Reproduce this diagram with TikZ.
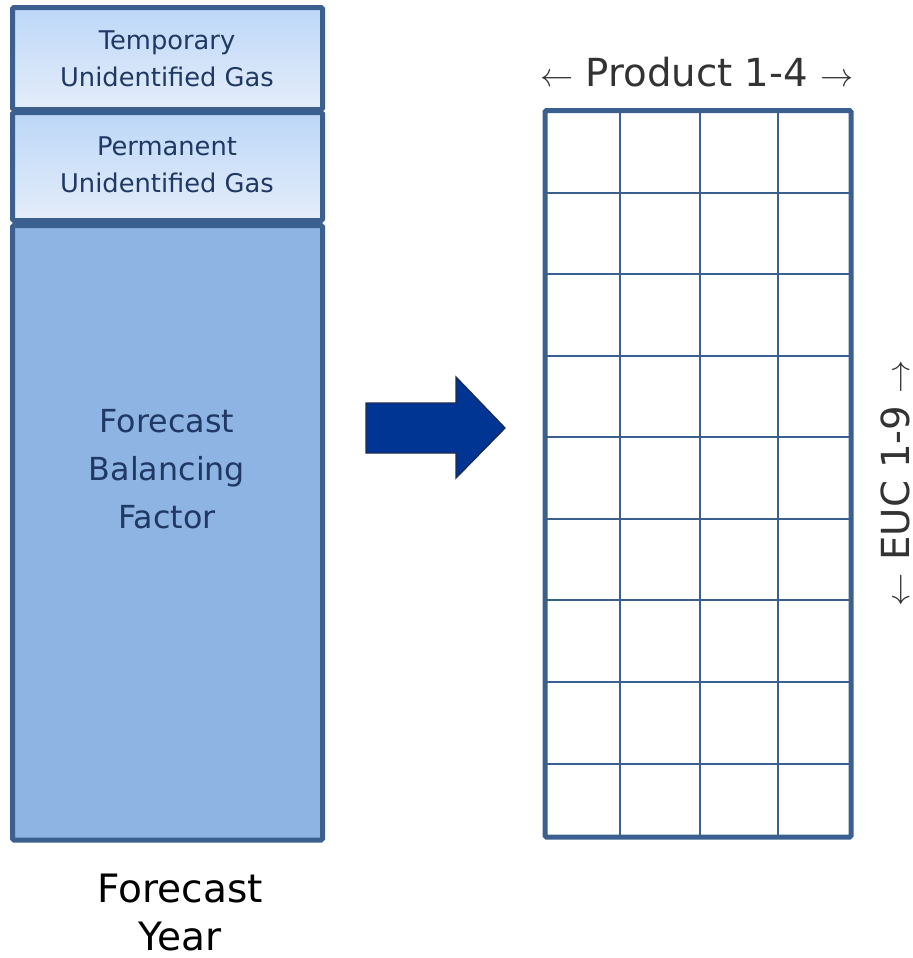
\documentclass[tikz,border=0pt]{standalone}
\usepackage{fontspec}
\setmainfont{DejaVu Sans}

\definecolor{boxedge}{RGB}{59,95,143}
\definecolor{boxtext}{RGB}{31,56,100}
\definecolor{ugtop}{RGB}{189,215,248}
\definecolor{ugbottom}{RGB}{228,237,250}
\definecolor{bffill}{RGB}{142,180,227}
\definecolor{arrowfill}{RGB}{0,53,148}
\definecolor{arrowedge}{RGB}{27,42,85}
\definecolor{axistext}{RGB}{51,51,51}

\tikzset{every picture/.style={line width=0.75pt}}
\tikzset{
	ugbox/.style={draw=boxedge, line width=3.75pt, rounded corners=1pt, top color=ugtop, bottom color=ugbottom},
	bfbox/.style={draw=boxedge, line width=3.75pt, rounded corners=1pt, fill=bffill},
	gridline/.style={draw=boxedge, line width=1.5pt},
	gridframe/.style={draw=boxedge, line width=3.75pt, rounded corners=1pt},
	boxlabel/.style={text=boxtext, align=center, inner sep=0pt},
	axislabel/.style={text=axistext, inner sep=0pt, font=\fontsize{29}{34}\selectfont}
}

\begin{document}
\begin{tikzpicture}[x=0.75pt,y=0.75pt,yscale=-1,xscale=1]
			\useasboundingbox (0,0) rectangle (913,958);

			%Shape: Rectangle [Temporary UG]
			\draw [ugbox] (12.5,7.5) rectangle (322.5,109.5) ;
			%Shape: Rectangle [Permanent UG]
			\draw [ugbox] (12.5,112.5) rectangle (322.5,220.5) ;
			%Shape: Rectangle [Balancing Factor]
			\draw [bfbox] (12.5,225.5) rectangle (322.5,840) ;

			%Shape: Right Arrow
			\draw [draw=arrowedge, fill=arrowfill, line width=1pt] (366,403) -- (456,403) -- (456,377) -- (505,428) -- (456,478) -- (456,453) -- (366,453) -- cycle ;

			%Shape: Grid 4 x 9
			\foreach \y in {193,274,356,437,519,600,682,764}
				\draw [gridline] (545,\y) -- (851,\y) ;
			\foreach \x in {620,700,778}
				\draw [gridline] (\x,110.5) -- (\x,837) ;
			\draw [gridframe] (545,110.5) rectangle (851,837) ;

			% Text Node
			\draw (167,59) node [boxlabel, font=\fontsize{19.3}{28}\selectfont] (tempug) {Temporary\\Unidentified Gas};
			% Text Node
			\draw (167,165) node [boxlabel, font=\fontsize{19.3}{28}\selectfont] (permug) {Permanent\\Unidentified Gas};
			% Text Node
			\draw (167,469) node [boxlabel, font=\fontsize{23.8}{36}\selectfont] (fbf) {Forecast\\Balancing\\Factor};
			% Text Node
			\draw (180,913) node [align=center, inner sep=0pt, font=\fontsize{29.3}{36}\selectfont] (fyear) {Forecast\\Year};
			% Text Node
			\draw (697,72) node [axislabel] (product) {$\leftarrow$ Product 1-4 $\rightarrow$};
			% Text Node
			\draw (895,483) node [axislabel, rotate=90] (euc) {$\leftarrow$ EUC 1-9 $\rightarrow$};

		\end{tikzpicture}
\end{document}
